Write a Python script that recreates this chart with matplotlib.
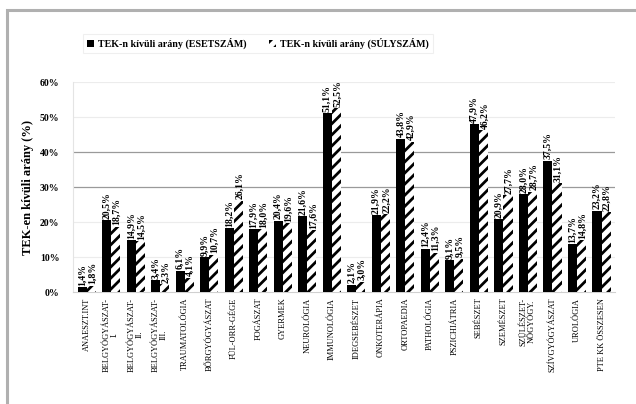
import numpy as np
import matplotlib.pyplot as plt
from matplotlib.patches import Rectangle

plt.rcParams["font.family"] = ["Liberation Serif", "DejaVu Serif"]
plt.rcParams["hatch.linewidth"] = 2.0

categories = [
    "ANAESZT.INT", "BELGYÓGYÁSZAT-\nI.", "BELGYÓGYÁSZAT-\nII.", "BELGYÓGYÁSZAT-\nIII.",
    "TRAUMATOLÓGIA", "BŐRGYÓGYÁSZAT", "FÜL-ORR-GÉGE", "FOGÁSZAT", "GYERMEK",
    "NEUROLÓGIA", "IMMUNOLÓGIA", "IDEGSEBÉSZET", "ONKOTERÁPIA", "ORTOPAEDIA",
    "PATHOLÓGIA", "PSZICHIÁTRIA", "SEBÉSZET", "SZEMÉSZET", "SZÜLÉSZET-\nNŐGYÓGY.",
    "SZÍVGYÓGYÁSZAT", "UROLÓGIA", "PTE KK ÖSSZESEN",
]
esetszam = [1.4, 20.5, 14.9, 3.4, 6.1, 9.9, 18.2, 17.9, 20.4, 21.6, 51.1,
            2.1, 21.9, 43.8, 12.4, 9.1, 47.9, 20.9, 28.0, 37.5, 13.7, 23.2]
sulyszam = [1.8, 18.7, 14.5, 2.3, 4.1, 10.7, 26.1, 18.0, 19.6, 17.6, 52.5,
            3.0, 22.2, 42.9, 11.3, 9.5, 46.2, 27.7, 28.7, 31.1, 14.8, 22.8]
legend_labels = ["TEK-n kívüli arány (ESETSZÁM)", "TEK-n kívüli arány (SÚLYSZÁM)"]

fig = plt.figure(figsize=(6.36, 4.04), dpi=100)
ax = fig.add_axes([0.115, 0.277, 0.852, 0.52])

# outer frame of the embedded chart
fig.patches.append(Rectangle((7 / 636, -0.2), 1.5, 1.2 - 10 / 404,
                             transform=fig.transFigure, fill=False,
                             edgecolor="#b0b0b0", linewidth=2.2))

x = np.arange(len(categories))
w = 0.37
b1 = ax.bar(x - w / 2, esetszam, w, color="black", label=legend_labels[0], zorder=3)
b2 = ax.bar(x + w / 2, sulyszam, w, color="white", edgecolor="black", linewidth=0,
            hatch="///", label=legend_labels[1], zorder=3)

for xi, v in zip(x - w / 2, esetszam):
    ax.text(xi, v + 0.4, f"{v:.1f}%".replace(".", ","), rotation=90,
            ha="center", va="bottom", fontsize=7, fontweight="bold")
for xi, v in zip(x + w / 2, sulyszam):
    ax.text(xi + 0.05, v + 0.4, f"{v:.1f}%".replace(".", ","), rotation=90,
            ha="center", va="bottom", fontsize=7, fontweight="bold")

ax.set_ylim(0, 60)
ax.set_xlim(-0.55, len(categories) - 0.45)
ax.set_yticks(np.arange(0, 61, 10))
ax.set_yticklabels([f"{t}%" for t in range(0, 61, 10)], fontsize=7, fontweight="bold")
ax.set_xticks(x)
ax.set_xticklabels(categories, rotation=90, fontsize=6, linespacing=1.0, va="top")
ax.tick_params(length=0, pad=4)
ax.tick_params(axis="y", pad=10)

for y in [10, 20, 50, 60]:
    ax.axhline(y, color="#ececec", linewidth=0.8, zorder=0)
for y in [30, 40]:
    ax.axhline(y, color="#9a9a9a", linewidth=0.9, zorder=0)

for s in ["top", "right"]:
    ax.spines[s].set_visible(False)
ax.spines["left"].set_color("#e4e4e4")
ax.spines["bottom"].set_color("#d0d0d0")

ax.set_ylabel("TEK-en kívüli arány (%)", fontsize=9, fontweight="bold", labelpad=4)

leg = fig.legend(handles=[b1, b2], loc="center", bbox_to_anchor=(0.406, 0.893), ncol=2,
                 frameon=True, fancybox=False, handlelength=0.7,
                 handleheight=0.7, columnspacing=2.2, handletextpad=0.4,
                 prop={"weight": "bold", "size": 7.2})
leg.get_frame().set_edgecolor("#ececec")
leg.get_frame().set_linewidth(0.8)

fig.savefig("out.png", dpi=100)
